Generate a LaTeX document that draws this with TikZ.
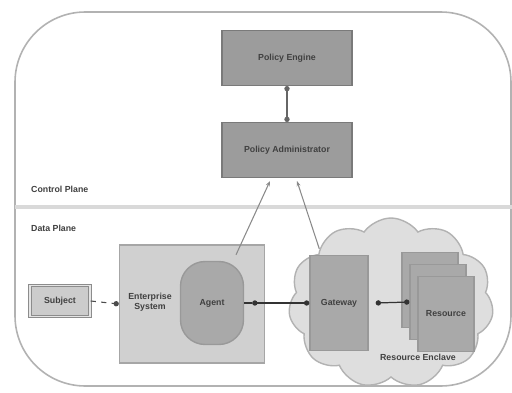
\documentclass[tikz,border=0pt]{standalone}
\usepackage{fontspec}
\setmainfont{Liberation Sans}
\usetikzlibrary{shapes.symbols,arrows.meta,calc}
\definecolor{pegray}{HTML}{9C9C9C}
\definecolor{pebord}{HTML}{7A7A7A}
\definecolor{entgray}{HTML}{D0D0D0}
\definecolor{agentgray}{HTML}{A9A9A9}
\definecolor{cloudgray}{HTML}{DEDEDE}
\definecolor{linegray}{HTML}{8A8A8A}
\begin{document}
\begin{tikzpicture}[x=0.02cm,y=-0.02cm,
  lbl/.style={font=\fontsize{5}{6}\selectfont\bfseries, text=black!75},
  pbox/.style={draw=pebord, fill=pegray, line width=0.6pt, minimum width=2.6cm, minimum height=1.1cm, lbl},
  dotline/.style={line width=0.7pt, black!80, {Circle[length=3pt]}-{Circle[length=3pt]}},
  ctrl/.style={line width=0.6pt, linegray, {Stealth[length=3pt]}-}]
\useasboundingbox (0,0) rectangle (512,393);
\fill[white] (0,0) rectangle (512,393);
% outer frame
\draw[black!30, line width=0.9pt, rounded corners=40] (15,12) rectangle (511,386);
% divider
\draw[black!15, line width=2pt] (15,207) -- (512,207);
\node[lbl, anchor=west] (cp) at (25,189) {Control Plane};
\node[lbl, anchor=west] (dp) at (25,228) {Data Plane};
% control plane boxes
\node[pbox] (pe) at (287,58) {Policy Engine};
\node[pbox] (pa) at (287,150) {Policy Administrator};
\draw[dotline, line width=0.6pt, black!60] (pe.south) -- (pa.north);
% resource enclave cloud
\node[cloud, cloud puffs=11, cloud puff arc=110, aspect=1.1, draw=black!30, fill=cloudgray, line width=0.8pt, minimum width=4.1cm, minimum height=3.4cm] (enc) at (391,303) {};
\node[lbl] (enclbl) at (418,357) {Resource Enclave};
% enterprise system
\node[draw=black!35, fill=entgray, line width=0.8pt, minimum width=2.9cm, minimum height=2.36cm] (ent) at (192,304) {};
\node[lbl, align=center] (entlbl) at (150,302) {Enterprise\\System};
\node[draw=black!40, fill=agentgray, rounded corners=14, line width=0.8pt, minimum width=1.26cm, minimum height=1.66cm, lbl] (agent) at (212,303) {Agent};
% subject
\node[draw=black!45, fill=black!20, line width=0.8pt, double=black!10, double distance=0.6pt, minimum width=1.2cm, minimum height=0.62cm, lbl] (subj) at (60,301) {Subject};
% gateway
\node[draw=black!40, fill=agentgray, line width=0.8pt, minimum width=1.16cm, minimum height=1.9cm, lbl] (gw) at (339,303) {Gateway};
% resources stacked
\node[draw=black!40, fill=agentgray, line width=0.7pt, minimum width=1.12cm, minimum height=1.5cm] (r1) at (430,290) {};
\node[draw=black!40, fill=agentgray, line width=0.7pt, minimum width=1.12cm, minimum height=1.5cm] (r2) at (438,302) {};
\node[draw=black!40, fill=agentgray, line width=0.7pt, minimum width=1.12cm, minimum height=1.5cm, lbl] (r3) at (446,314) {Resource};
% data plane connectors
\draw[line width=0.6pt, black!70, dashed, -{Circle[length=3pt]}] (subj.east) -- (ent.west);
\draw[dotline] (agent.east) ++(8,0) coordinate (a1) -- (gw.west);
\draw[dotline] (gw.east) ++(7,0) coordinate (g1) -- (r2.west);
\draw[line width=0.7pt, black!80] (agent.east) -- (a1);
% control connectors
\coordinate (pa1) at ($(pa.south)+(-17,3)$);
\coordinate (pa2) at ($(pa.south)+(10,3)$);
\coordinate (ag1) at ($(agent.north)+(24,-6)$);
\coordinate (gw1) at ($(gw.north west)+(10,-6)$);
\draw[ctrl] (pa1) -- (ag1);
\draw[ctrl] (pa2) -- (gw1);
\end{tikzpicture}
\end{document}
